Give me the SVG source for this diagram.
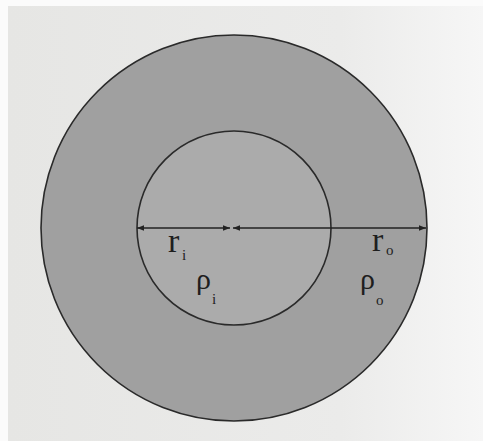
<svg xmlns="http://www.w3.org/2000/svg" width="483" height="441" viewBox="0 0 483 441">
<style>
.edge{stroke:#2a2a2a;stroke-width:1.6;}
.conn{stroke:#222;stroke-width:1.3;fill:none;}
.lbl{font-family:"Liberation Serif","DejaVu Serif",serif;font-size:34px;fill:#1e1e1e;}
.rho{font-family:"Liberation Serif","DejaVu Serif",serif;font-size:30px;fill:#1e1e1e;}
.sub{font-family:"Liberation Serif","DejaVu Serif",serif;font-size:15px;fill:#1e1e1e;}
</style>
<defs>
<linearGradient id="bg" x1="0" y1="0" x2="1" y2="0">
<stop offset="0" stop-color="#e6e6e4"/>
<stop offset="0.7" stop-color="#ebebea"/>
<stop offset="1" stop-color="#f6f6f6"/>
</linearGradient>
<marker id="ah" viewBox="0 0 10 10" refX="10" refY="5" markerWidth="9" markerHeight="7" orient="auto-start-reverse" markerUnits="userSpaceOnUse">
<path d="M0,1 L10,5 L0,9 Z" fill="#222"/>
</marker>
</defs>
<rect x="0" y="0" width="483" height="441" fill="#fbfbfb"/>
<rect x="8" y="6" width="475" height="435" fill="url(#bg)"/>
<g id="outer">
<circle cx="234" cy="228" r="193" fill="#a0a0a0" class="edge"/>
</g>
<g id="inner">
<circle cx="234" cy="228" r="97" fill="#ababab" class="edge"/>
</g>
<g id="connectors">
<line x1="137" y1="228" x2="230" y2="228" class="conn" marker-start="url(#ah)" marker-end="url(#ah)"/>
<line x1="233" y1="228" x2="426" y2="228" class="conn" marker-start="url(#ah)" marker-end="url(#ah)"/>
</g>
<g id="labels">
<text x="168" y="252" class="lbl">r</text><text x="182" y="260" class="sub">i</text>
<text x="196" y="289" class="rho">ρ</text><text x="212" y="304" class="sub">i</text>
<text x="372" y="251" class="lbl">r</text><text x="386" y="255" class="sub">o</text>
<text x="360" y="289" class="rho">ρ</text><text x="376" y="305" class="sub">o</text>
</g>
</svg>
